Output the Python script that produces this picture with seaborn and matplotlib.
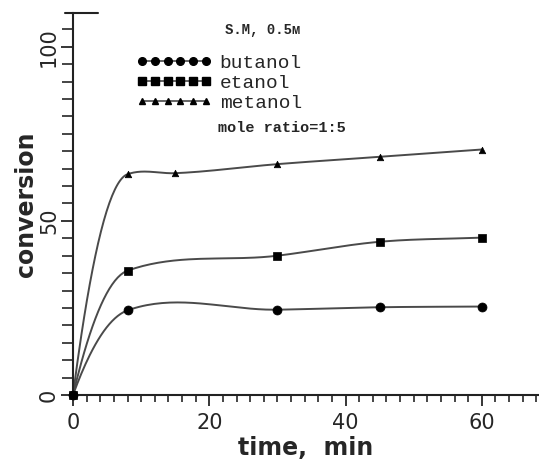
import numpy as np
import pandas as pd
import matplotlib
matplotlib.use("Agg")
import matplotlib.pyplot as plt
import seaborn as sns
from matplotlib.lines import Line2D
from matplotlib.ticker import MultipleLocator

# ---- data ----
time_min = [0, 8, 15, 30, 45, 60]
butanol = [0, 24.3, None, 24.5, 25.2, 25.4]
etanol = [0, 35.7, None, 40.0, 44.0, 45.2]
metanol = [0, 63.4, 63.7, 66.3, 68.4, 70.5]
series_names = ["butanol", "etanol", "metanol"]
x_ticks = [0, 20, 40, 60]
y_ticks = [0, 50, 100]

sns.set_style("ticks")
plt.rcParams["font.family"] = ["DejaVu Sans"]

fig = plt.figure(figsize=(5.39, 4.59), dpi=100)
ax = fig.add_axes([73 / 539, 1 - 395 / 459, 1 - 73 / 539, (395 - 13) / 459])


def smooth(xs, ys, n=40, slope_cap=0.7):
    """Hand-drawn-like cubic Hermite curve through the given points."""
    xs = np.asarray(xs, float)
    ys = np.asarray(ys, float)
    h = np.diff(xs)
    d = np.diff(ys) / h
    m = np.zeros_like(ys)
    for i in range(1, len(xs) - 1):
        m[i] = (d[i - 1] * h[i] + d[i] * h[i - 1]) / (h[i - 1] + h[i])
        m[i] = np.clip(m[i], -slope_cap, slope_cap)
    m[0] = 2 * d[0] - m[1]
    m[-1] = d[-1]
    outx, outy = [], []
    for i in range(len(xs) - 1):
        t = np.linspace(0, 1, n)
        h00 = 2 * t**3 - 3 * t**2 + 1
        h10 = t**3 - 2 * t**2 + t
        h01 = -2 * t**3 + 3 * t**2
        h11 = t**3 - t**2
        yy = h00 * ys[i] + h10 * h[i] * m[i] + h01 * ys[i + 1] + h11 * h[i] * m[i + 1]
        outx.extend(xs[i] + t * h[i])
        outy.extend(yy)
    return np.array(outx), np.array(outy)


styles = {
    "butanol": dict(marker="o", s=42),
    "etanol": dict(marker="s", s=36),
    "metanol": dict(marker="^", s=22),
}
line_color = "#4a4a4a"

for name, vals in zip(series_names, [butanol, etanol, metanol]):
    df = pd.DataFrame({"t": time_min, "v": vals}).dropna()
    sx, sy = smooth(df["t"].values, df["v"].values)
    sns.lineplot(x=sx, y=sy, ax=ax, color=line_color, lw=1.4, sort=False)
    sns.scatterplot(data=df, x="t", y="v", ax=ax, color="black",
                    marker=styles[name]["marker"], s=styles[name]["s"],
                    edgecolor="black", linewidth=0.5, zorder=5, clip_on=False)

ax.set_xlim(0, 68.4)
ax.set_ylim(0, 109.7)
ax.set_xticks(x_ticks)
ax.set_yticks(y_ticks)
ax.xaxis.set_minor_locator(MultipleLocator(2))
ax.yaxis.set_minor_locator(MultipleLocator(5))
ax.tick_params(axis="x", which="major", length=8, width=1.3, labelsize=15, pad=5)
ax.tick_params(axis="x", which="minor", length=5, width=1.2)
ax.tick_params(axis="y", which="major", length=9, width=1.3, labelsize=15, pad=1)
ax.tick_params(axis="y", which="minor", length=8, width=1.2)
for lab in ax.get_yticklabels():
    lab.set_rotation(90)
    lab.set_va("center")
for sp in ["top", "right"]:
    ax.spines[sp].set_visible(False)
for sp in ["left", "bottom"]:
    ax.spines[sp].set_linewidth(1.5)
    ax.spines[sp].set_color("#222222")

ax.set_xlabel("time,  min", fontsize=17, fontweight="bold", labelpad=2)
ax.set_ylabel("conversion", fontsize=17, fontweight="bold", labelpad=1)

# top stub of the frame
ax.plot([-0.017, 0.053], [1, 1], transform=ax.transAxes, color="#222222",
        lw=1.5, clip_on=False)

# legend
handles = [Line2D([0], [0], color=line_color, lw=1.2, marker=styles[n]["marker"],
                  markersize=np.sqrt(styles[n]["s"]) * 0.85, markerfacecolor="black",
                  markeredgecolor="black") for n in series_names]
leg = ax.legend(handles, series_names, loc="upper left",
                bbox_to_anchor=((136 - 73) / 466, (395 - 54) / 382),
                frameon=False, numpoints=6, handlelength=3.9, handletextpad=0.4,
                labelspacing=0.12, borderpad=0, borderaxespad=0,
                prop={"family": "Liberation Mono", "size": 14})

ax.text((225 - 73) / 466, (395 - 30) / 382, "S.M, 0.5м", transform=ax.transAxes,
        family="Liberation Mono", fontsize=10, fontweight="bold", va="center", ha="left")
ax.text((218 - 73) / 466, (395 - 128) / 382, "mole ratio=1:5", transform=ax.transAxes,
        family="Liberation Mono", fontsize=11, fontweight="bold", va="center", ha="left")

fig.savefig("out.png", dpi=100)
